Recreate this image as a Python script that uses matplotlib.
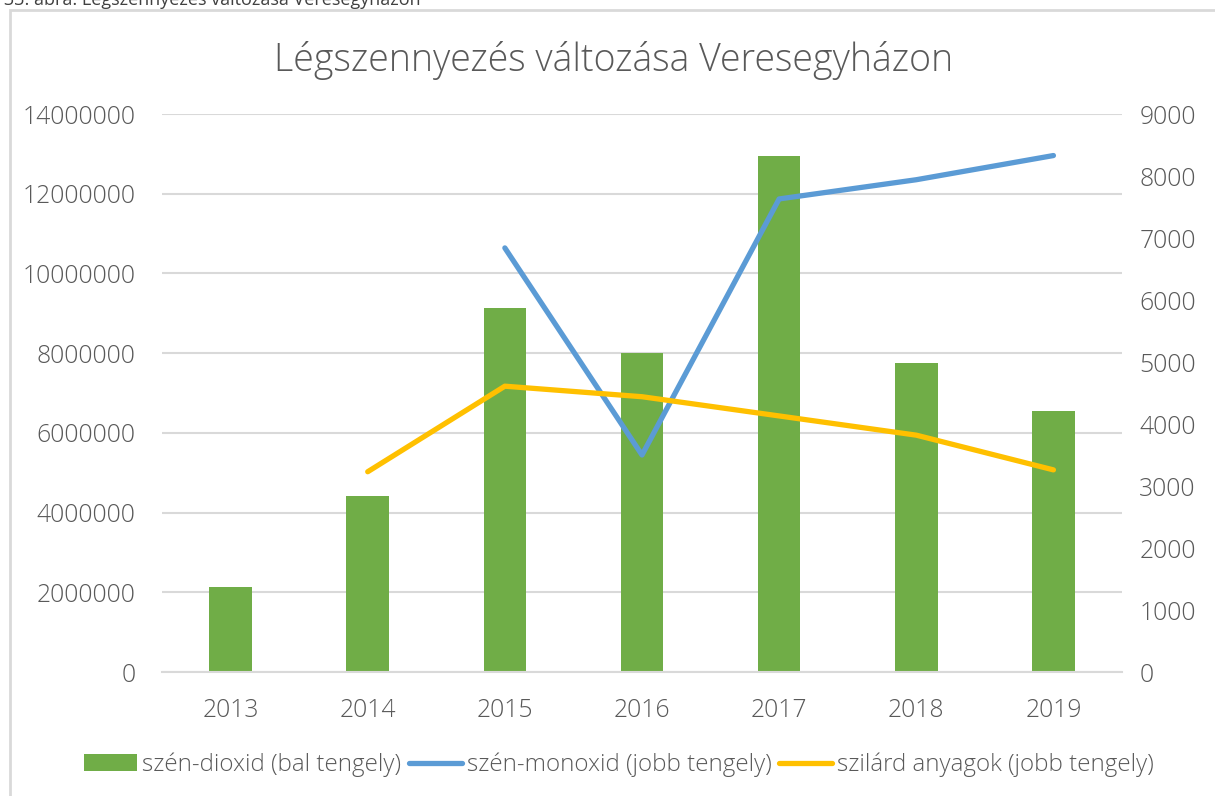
import numpy as np
import matplotlib.pyplot as plt
from matplotlib.patches import Rectangle

plt.rcParams['font.family'] = ['Open Sans', 'DejaVu Sans']

# Adatok
years = ['2013', '2014', '2015', '2016', '2017', '2018', '2019']
co2 = [2130000, 4420000, 9130000, 8000000, 12950000, 7750000, 6550000]
co = [np.nan, np.nan, 6840, 3500, 7630, 7940, 8330]
solid = [np.nan, 3230, 4610, 4440, 4130, 3820, 3260]

green = '#70AD47'
blue = '#5B9BD5'
yellow = '#FFC000'
txt = '#595959'

fig = plt.figure(figsize=(12.15, 7.96), dpi=100)
ax = fig.add_axes([162 / 1215, 1 - 672 / 796, 960 / 1215, 558 / 796])
ax2 = ax.twinx()

x = np.arange(len(years))
ax.bar(x, co2, width=0.31, color=green, zorder=2, label='szén-dioxid (bal tengely)')
ax2.plot(x, co, color=blue, lw=3.8, solid_capstyle='round', label='szén-monoxid (jobb tengely)')
ax2.plot(x, solid, color=yellow, lw=3.8, solid_capstyle='round', label='szilárd anyagok (jobb tengely)')

ax.set_xlim(-0.5, len(years) - 0.5)
ax.set_ylim(0, 14000000)
ax2.set_ylim(0, 9000)
ax.set_yticks(np.arange(0, 14000001, 2000000))
ax2.set_yticks(np.arange(0, 9001, 1000))
ax.set_yticklabels([f'{v:d}' for v in range(0, 14000001, 2000000)])
ax.set_xticks(x)
ax.set_xticklabels(years)

ax.grid(axis='y', color='#d9d9d9', lw=1.5, zorder=0)
ax.set_axisbelow(True)
for a in (ax, ax2):
    for s in a.spines.values():
        s.set_visible(False)
    a.tick_params(length=0, labelsize=17.8, labelcolor=txt)
ax.spines['bottom'].set_visible(True)
ax.spines['bottom'].set_color('#d9d9d9')
ax.spines['bottom'].set_linewidth(1.5)
ax.tick_params(axis='y', pad=19)
ax.tick_params(axis='x', pad=19)
ax2.tick_params(axis='y', pad=12.5)
for lab in ax.get_xticklabels() + ax.get_yticklabels() + ax2.get_yticklabels():
    lab.set_fontweight('light')

fig.text(0.5 + 6 / 1215, 1 - 60 / 796, 'Légszennyezés változása Veresegyházon', ha='center', va='center',
         fontsize=27, color=txt, fontweight='light')

# Keret és felirat
fig.patches.append(Rectangle((10 / 1215, -0.1), 1.2, 1 - 10 / 796 + 0.1, transform=fig.transFigure,
                             fill=False, edgecolor='#d9d9d9', lw=2))
fig.text(4 / 1215, 1 - 5 / 796, '33. ábra: Légszennyezés változása Veresegyházon', ha='left',
         va='baseline', fontsize=13, color='#404040')

h1, l1 = ax.get_legend_handles_labels()
h2, l2 = ax2.get_legend_handles_labels()
leg = fig.legend(h1 + h2, l1 + l2, loc='center', bbox_to_anchor=(619 / 1215, 1 - 765 / 796), ncol=3,
                 frameon=False, fontsize=17.4, handlelength=2.2, handletextpad=0.2, columnspacing=0.3,
                 labelcolor=txt)
for t in leg.get_texts():
    t.set_fontweight('light')

fig.savefig('out.png', dpi=100)
